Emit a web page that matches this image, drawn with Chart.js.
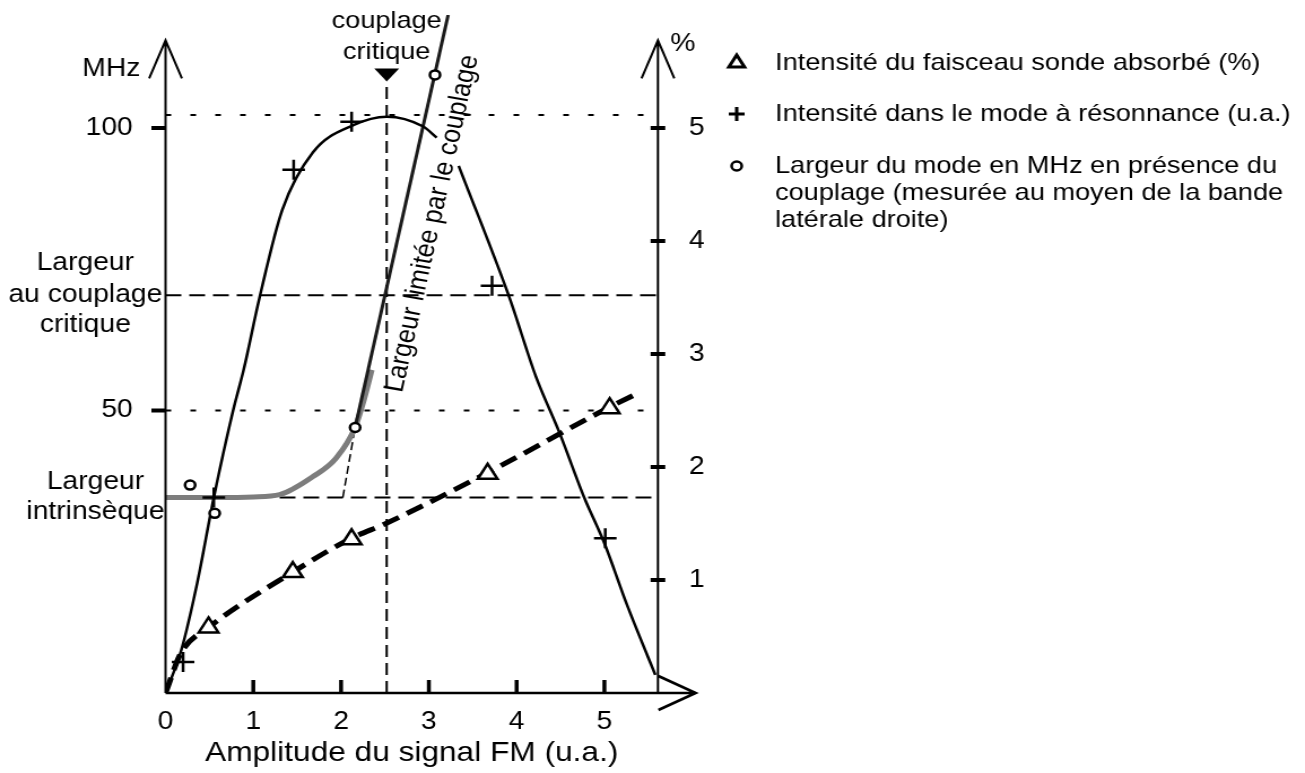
<!DOCTYPE html>
<html>
<head>
<meta charset="utf-8">
<script src="https://cdn.jsdelivr.net/npm/chart.js@4.4.1/dist/chart.umd.min.js"></script>
<style>
  html, body { margin: 0; padding: 0; background: #fff; }
  #wrap { width: 1305px; height: 773px; overflow: hidden; }
</style>
</head>
<body>
<div id="wrap">
  <!-- the scanned figure is a bit wider than tall, so the canvas is drawn narrow and shown stretched -->
  <canvas id="fmchart" width="1155" height="773" style="width:1305px;height:773px"></canvas>
</div>
<script>
// ---- data ----
const xTicks = [0, 1, 2, 3, 4, 5];
const mhzTicks = [50, 100];
const pctTicks = [1, 2, 3, 4, 5];

// + intensité dans le mode à résonance (mesures)
const crossX = [0.20, 0.55, 1.46, 2.12, 3.72, 5.01];
const crossY = [5.5, 34.6, 92.6, 101.1, 72.1, 27.4];

// courbe en cloche tracée à travers les +
const bellX = [0, 0.18, 0.36, 0.55, 0.77, 0.89, 1.07, 1.33, 1.68, 2.14, 2.52, 2.93, 3.09, 3.20, 3.34, 3.92, 4.22, 4.49, 4.77, 5.00, 5.25, 5.58];
const bellY = [0, 7.6, 19.4, 34.6, 50, 57.2, 69.9, 85.5, 95.7, 100.5, 102.0, 100.3, 98.3, null, 93.3, 69.9, 56.0, 46.0, 34.6, 26.5, 15.9, 3.2];

// triangles : intensité du faisceau sonde absorbé (%)
const triX = [0.49, 1.45, 2.12, 3.67, 5.06];
const triY = [0.58, 1.07, 1.36, 1.94, 2.52];
const absFitX = [0, 0.18, 0.49, 1.45, 2.12, 2.51, 3.67, 5.06, 5.40];
const absFitY = [0, 0.36, 0.58, 1.07, 1.37, 1.50, 1.95, 2.53, 2.66];

// cercles : largeur du mode (MHz)
const widthX = [0.28, 0.56, 2.16, 3.07];
const widthY = [36.8, 31.8, 47.0, 109.4];

// largeur intrinsèque qui remonte (trait gris)
const intrX = [0, 0.6, 1.0, 1.3, 1.68, 1.94, 2.16, 2.27, 2.35];
const intrY = [34.6, 34.6, 34.7, 35.1, 38.3, 41.5, 47.0, 52.4, 57.2];

// droite "largeur limitée par le couplage" et son prolongement
const coupX = [2.16, 3.22];
const coupY = [47.0, 120];
const extrapX = [2.02, 2.16];
const extrapY = [34.6, 47.0];

// niveaux de référence
const levelPeak = 102.3;
const levelCrit = 70.4;
const levelIntr = 34.6;
const level50 = 50;
const critX = 2.52;
const critMarkY = 109.4;

const X_MAX = 5.61;      // where the % axis stands
const X_ARROW = 6.04;
const MHZ_MAX = 120;
const PCT_MAX = 6;
const AXIS_TOP = 115.5;

const FONT = "'Liberation Sans', Arial, Helvetica, sans-serif";

function pts(xs, ys) {
  return xs.map((v, i) => ({x: v, y: ys[i]}));
}

function refLine(xs, ys, dash, width) {
  return {
    data: pts(xs, ys), showLine: true, pointRadius: 0, borderColor: '#000',
    borderWidth: width, borderDash: dash, tension: 0, order: 3
  };
}

const legendItems = [
  {style: 'triangle', r: 8, w: 3, lines: ['Intensité du faisceau sonde absorbé (%)']},
  {style: 'cross', r: 7, w: 3, lines: ['Intensité dans le mode à résonnance (u.a.)']},
  {style: 'circle', r: 4.5, w: 2.5, lines: ['Largeur du mode en MHz en présence du', 'couplage (mesurée au moyen de la bande', 'latérale droite)']}
];

const axesDecor = {
  id: 'axesDecor',
  afterDatasetsDraw(chart) {
    const {ctx, scales} = chart;
    const sx = scales.x, sy = scales.y, sp = scales.y2;
    const xl = sx.getPixelForValue(0), xr = sx.getPixelForValue(X_MAX);
    const yb = sy.getPixelForValue(0), yt = sy.getPixelForValue(AXIS_TOP);
    const xTip = sx.getPixelForValue(X_ARROW);
    ctx.save();
    ctx.strokeStyle = '#000';
    ctx.fillStyle = '#000';

    ctx.lineWidth = 2;
    ctx.beginPath();
    [xl, xr].forEach(px => {
      ctx.moveTo(px, yb); ctx.lineTo(px, yt);
      ctx.moveTo(px - 14.5, yt + 38); ctx.lineTo(px, yt); ctx.lineTo(px + 14.5, yt + 38);
    });
    ctx.stroke();

    ctx.lineWidth = 2.6;
    ctx.beginPath();
    ctx.moveTo(xl, yb); ctx.lineTo(xTip, yb);
    ctx.moveTo(xTip - 33, yb - 17); ctx.lineTo(xTip, yb); ctx.lineTo(xTip - 33, yb + 17);
    ctx.stroke();

    // tick marks
    ctx.lineWidth = 3.5;
    ctx.beginPath();
    xTicks.forEach(v => {
      if (v === 0) return;
      const px = sx.getPixelForValue(v);
      ctx.moveTo(px, yb); ctx.lineTo(px, yb - 13);
    });
    ctx.stroke();
    ctx.lineWidth = 4;
    ctx.beginPath();
    mhzTicks.forEach(v => {
      const py = sy.getPixelForValue(v);
      ctx.moveTo(xl - 12.5, py); ctx.lineTo(xl, py);
    });
    pctTicks.forEach(v => {
      const py = sp.getPixelForValue(v);
      ctx.moveTo(xr - 6.5, py); ctx.lineTo(xr + 6.5, py);
    });
    ctx.stroke();

    // axis units
    ctx.font = `25px ${FONT}`;
    ctx.textAlign = 'center';
    ctx.textBaseline = 'middle';
    ctx.fillText('MHz', xl - 48, yt + 29);
    ctx.fillText('%', xr + 22, yt + 4);

    // labels on the left of the MHz axis
    const yc = sy.getPixelForValue(levelCrit);
    ctx.fillText('Largeur', xl - 71, yc - 32);
    ctx.fillText('au couplage', xl - 71, yc);
    ctx.fillText('critique', xl - 71, yc + 30);
    const yi = sy.getPixelForValue(levelIntr);
    ctx.fillText('Largeur', xl - 62, yi - 15);
    ctx.fillText('intrinsèque', xl - 62, yi + 15);

    // critical coupling marker
    const cx = sx.getPixelForValue(critX), cy = sy.getPixelForValue(critMarkY);
    ctx.beginPath();
    ctx.moveTo(cx - 11, cy - 6.5); ctx.lineTo(cx + 11, cy - 6.5); ctx.lineTo(cx, cy + 6.5);
    ctx.closePath();
    ctx.fill();
    ctx.font = `24px ${FONT}`;
    ctx.fillText('couplage', cx, cy - 54);
    ctx.fillText('critique', cx, cy - 23);

    // text along the coupling-limited line
    const p1x = sx.getPixelForValue(coupX[0]), p1y = sy.getPixelForValue(coupY[0]);
    const p2x = sx.getPixelForValue(coupX[1]), p2y = sy.getPixelForValue(coupY[1]);
    const a = Math.atan2(p2y - p1y, p2x - p1x);
    const t = (84 - coupY[0]) / (coupY[1] - coupY[0]);
    const ax = p1x + t * (p2x - p1x), ay = p1y + t * (p2y - p1y);
    const nx = -Math.sin(a), ny = Math.cos(a);
    ctx.font = `25px ${FONT}`;
    ctx.translate(ax + 27 * nx, ay + 27 * ny);
    ctx.rotate(a);
    ctx.fillText('Largeur limitée par le couplage', 0, 0);
    ctx.restore();
  }
};

const sideLegend = {
  id: 'sideLegend',
  afterDraw(chart) {
    const ctx = chart.ctx;
    const rows = [63, 114, 166];
    ctx.save();
    ctx.font = `24px ${FONT}`;
    ctx.textAlign = 'left';
    ctx.textBaseline = 'middle';
    legendItems.forEach((it, i) => {
      ctx.strokeStyle = '#000';
      ctx.fillStyle = '#fff';
      ctx.lineWidth = it.w;
      Chart.helpers.drawPoint(ctx, {pointStyle: it.style, radius: it.r, rotation: 0, borderWidth: it.w}, 652, rows[i]);
      ctx.fillStyle = '#000';
      it.lines.forEach((s, j) => ctx.fillText(s, 686, rows[i] + j * 27));
    });
    ctx.restore();
  }
};

const tickFont = {family: FONT, size: 25};

function noPadV(s, w) {
  s.width = w;
  s.paddingTop = 0;
  s.paddingBottom = 0;
}

new Chart(document.getElementById('fmchart').getContext('2d'), {
  type: 'scatter',
  data: {
    datasets: [
      {
        data: pts(crossX, crossY), pointStyle: 'cross', pointRadius: 10,
        pointBorderWidth: 2.5, pointBorderColor: '#000', order: 0
      },
      {
        data: pts(widthX, widthY), pointStyle: 'circle', pointRadius: 4.5,
        pointBorderWidth: 2.5, pointBorderColor: '#000', pointBackgroundColor: '#fff', order: 0
      },
      {
        data: pts(triX, triY), yAxisID: 'y2', pointStyle: 'triangle', pointRadius: 10,
        pointBorderWidth: 2.5, pointBorderColor: '#000', pointBackgroundColor: '#fff', order: 0
      },
      {
        data: pts(bellX, bellY), showLine: true, pointRadius: 0, borderColor: '#000',
        borderWidth: 2.5, cubicInterpolationMode: 'monotone', spanGaps: false, order: 1
      },
      {
        data: pts(absFitX, absFitY), yAxisID: 'y2', showLine: true, pointRadius: 0, borderColor: '#000',
        borderWidth: 5, borderDash: [16, 8], cubicInterpolationMode: 'monotone', order: 1
      },
      {
        data: pts(coupX, coupY), showLine: true, pointRadius: 0, borderColor: '#1a1a1a',
        borderWidth: 3, tension: 0, order: 1
      },
      {
        data: pts(intrX, intrY), showLine: true, pointRadius: 0, borderColor: '#7d7d7d',
        borderWidth: 5, cubicInterpolationMode: 'monotone', order: 2
      },
      refLine(extrapX, extrapY, [8, 4], 1.5),
      refLine([0, X_MAX], [levelPeak, levelPeak], [5, 17], 2),
      refLine([0, X_MAX], [level50, level50], [5, 17], 2),
      refLine([0, X_MAX], [levelCrit, levelCrit], [14, 7], 2),
      refLine([1.3, X_MAX], [levelIntr, levelIntr], [14, 7], 2),
      refLine([critX, critX], [0, 108], [12, 6], 2)
    ]
  },
  options: {
    responsive: false,
    devicePixelRatio: 1,
    animation: false,
    events: [],
    layout: {padding: {top: 15, left: 0, right: 0, bottom: 0}},
    plugins: {
      legend: {display: false},
      tooltip: {enabled: false},
      title: {display: false}
    },
    scales: {
      x: {
        type: 'linear', min: 0, max: X_MAX, position: 'bottom',
        grid: {display: false}, border: {display: false},
        afterBuildTicks: s => { s.ticks = xTicks.map(v => ({value: v})); },
        afterFit: s => { s.height = 80; s.paddingLeft = 0; s.paddingRight = 0; },
        ticks: {font: tickFont, color: '#000', padding: 6, autoSkip: false, maxRotation: 0},
        title: {display: true, text: 'Amplitude du signal FM (u.a.)', color: '#000', font: {family: FONT, size: 28}, padding: {top: 0, bottom: 3}}
      },
      y: {
        type: 'linear', min: 0, max: MHZ_MAX, position: 'left',
        grid: {display: false}, border: {display: false},
        afterBuildTicks: s => { s.ticks = mhzTicks.map(v => ({value: v})); },
        afterFit: s => noPadV(s, 146.5),
        ticks: {font: tickFont, color: '#000', padding: 21, autoSkip: false}
      },
      y2: {
        type: 'linear', min: 0, max: PCT_MAX, position: 'right',
        grid: {display: false}, border: {display: false},
        afterBuildTicks: s => { s.ticks = pctTicks.map(v => ({value: v})); },
        afterFit: s => noPadV(s, 572.7),
        ticks: {font: tickFont, color: '#000', padding: 19.5, autoSkip: false}
      }
    }
  },
  plugins: [axesDecor, sideLegend]
});
</script>
</body>
</html>
